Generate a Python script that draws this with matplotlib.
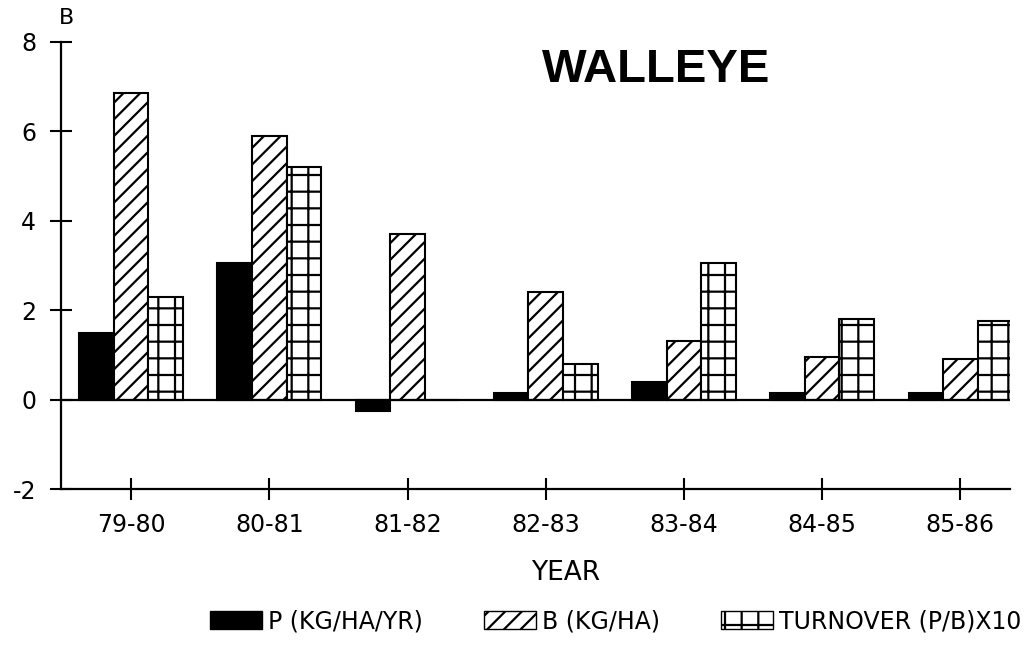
import matplotlib
matplotlib.use("Agg")
import matplotlib.pyplot as plt
from matplotlib.patches import Patch
import numpy as np

# values
years = ['79-80', '80-81', '81-82', '82-83', '83-84', '84-85', '85-86']
prod = [1.5, 3.05, -0.25, 0.15, 0.4, 0.15, 0.15]          # P (kg/ha/yr)
biomass = [6.85, 5.9, 3.7, 2.4, 1.3, 0.95, 0.9]           # B (kg/ha)
turnover = [2.3, 5.2, 0.0, 0.8, 3.05, 1.8, 1.75]          # (P/B) x10
yticks = [-2, 0, 2, 4, 6, 8]

plt.rcParams['font.family'] = ['DejaVu Sans']
plt.rcParams['hatch.linewidth'] = 1.6
plt.rcParams['hatch.color'] = 'black'

fig = plt.figure(figsize=(10.26, 6.47), dpi=100)
ax = fig.add_axes([0.0595, 0.2442, 0.925, 0.6909])

x = np.arange(len(years))
w = 0.25
ax.bar(x - w, prod, w, color='black', edgecolor='black', linewidth=1.5)
ax.bar(x, biomass, w, color='white', edgecolor='black', linewidth=1.5, hatch='//')
ax.bar(x + w, turnover, w, color='white', edgecolor='black', linewidth=1.5, hatch='+')

ax.axhline(0, color='black', linewidth=1.6)

ax.set_xlim(-0.507, 6.36)
ax.set_ylim(-2, 8)
ax.spines['top'].set_visible(False)
ax.spines['right'].set_visible(False)
ax.spines['left'].set_linewidth(1.6)
ax.spines['bottom'].set_linewidth(1.6)

ax.set_yticks(yticks)
ax.set_yticklabels([str(v) for v in yticks])
ax.set_xticks(x)
ax.set_xticklabels(years)
ax.tick_params(axis='both', direction='inout', length=16, width=1.5,
               labelsize=17)
ax.tick_params(axis='y', pad=10)
ax.tick_params(axis='x', pad=9)

fig.text(0.065, 0.972, 'B', fontsize=16, ha='center', va='center')
fig.text(0.640, 0.892, 'WALLEYE', fontsize=34, fontweight='bold',
         family='Liberation Sans', ha='center', va='center')
fig.text(0.551, 0.115, 'YEAR', fontsize=19, ha='center', va='center')

handles = [
    Patch(facecolor='black', edgecolor='black', label='P (KG/HA/YR)'),
    Patch(facecolor='white', edgecolor='black', hatch='//', label='B (KG/HA)'),
    Patch(facecolor='white', edgecolor='black', hatch='+', label='TURNOVER (P/B)X10'),
]
fig.legend(handles=handles, loc='center', bbox_to_anchor=(0.600, 0.040), ncol=3,
           frameon=False, fontsize=17, handlelength=2.2, handleheight=0.8,
           handletextpad=0.25, columnspacing=2.6)

fig.savefig('out.png', dpi=100, facecolor='white')
